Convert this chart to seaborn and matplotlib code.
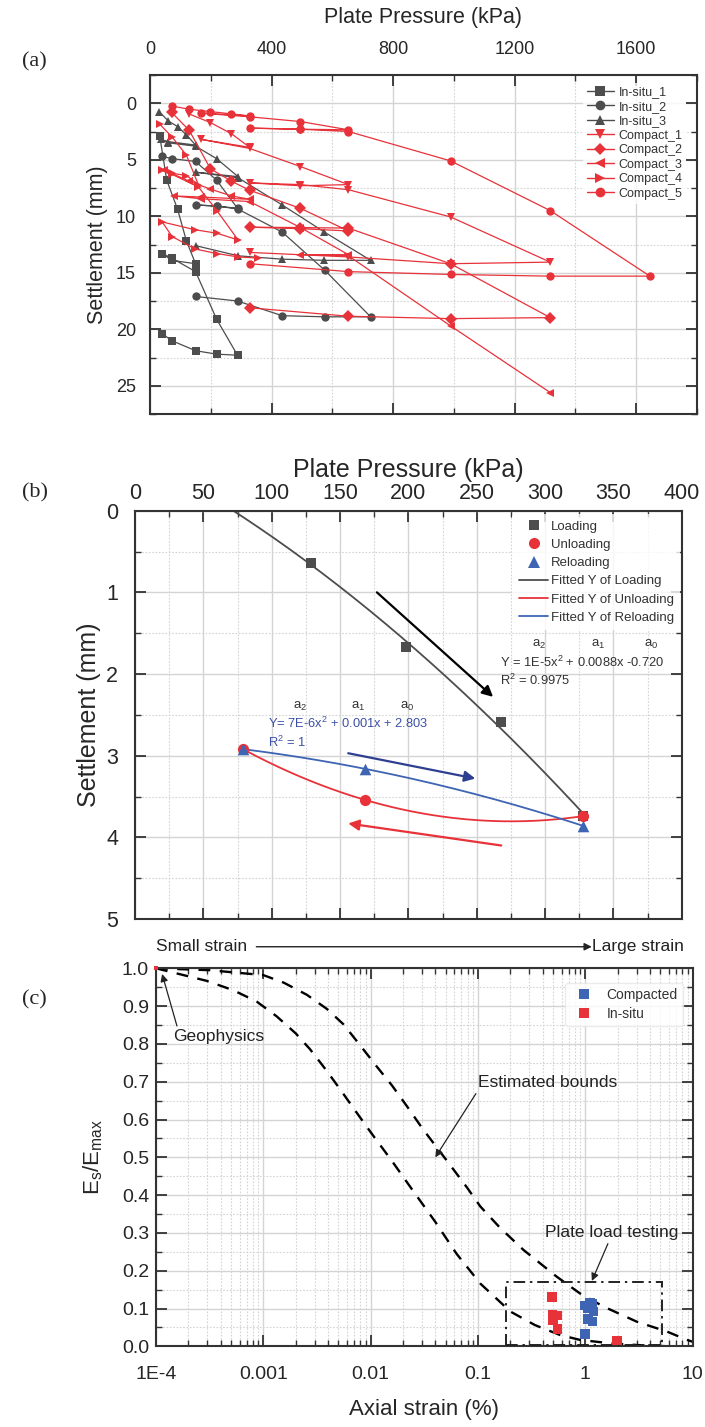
import numpy as np
import pandas as pd
import matplotlib
matplotlib.use("Agg")
import matplotlib.pyplot as plt
import seaborn as sns
from matplotlib.lines import Line2D
from matplotlib.patches import Rectangle
from matplotlib.ticker import MultipleLocator, LogLocator, NullFormatter, FormatStrFormatter

sns.set_style("white")
plt.rcParams["font.family"] = ["Liberation Sans", "DejaVu Sans"]
plt.rcParams["mathtext.default"] = "regular"

GRAY = "#4d4d4d"
RED = "#e8323a"
BLUE = "#3e64b4"
NAVY = "#2e3f92"
GRID = "#d4d4d4"
AXIS = "#333333"

# ---------------------------------------------------------------- (a) data
# plate pressure (kPa) and settlement (mm), in the order the readings were taken
insitu1_p = [32, 55, 91, 120, 150, 71, 41, 71, 150, 219, 288, 219, 150, 71, 41]
insitu1_s = [2.9, 6.8, 9.4, 12.2, 14.2, 13.9, 13.3, 13.7, 14.9, 19.1, 22.3, 22.2, 21.9, 21.0, 20.4]
insitu2_p = [41, 71, 150, 219, 288, 219, 150, 219, 288, 435, 576, 726, 576, 435, 288, 150]
insitu2_s = [4.7, 4.9, 5.15, 6.8, 9.3, 9.1, 9.0, 9.1, 9.35, 11.4, 14.8, 18.9, 18.9, 18.8, 17.5, 17.1]
insitu3_p = [30, 60, 91, 120, 150, 60, 35, 60, 150, 219, 290, 150, 290, 435, 574, 726, 574, 435, 290, 150]
insitu3_s = [0.74, 1.56, 2.07, 2.8, 3.7, 3.4, 3.2, 3.5, 3.8, 4.9, 6.5, 6.1, 6.6, 9.0, 11.4, 13.9, 13.9, 13.8, 13.5, 12.6]
compact1_p = [129, 199, 268, 328, 169, 328, 495, 653, 495, 328, 495, 653, 989, 1317, 989, 653, 328]
compact1_s = [0.95, 1.71, 2.7, 3.9, 3.2, 4.0, 5.6, 7.2, 7.3, 7.05, 7.2, 7.65, 10.06, 14.06, 14.2, 13.6, 13.2]
compact2_p = [71, 129, 199, 268, 328, 495, 653, 495, 328, 495, 653, 989, 1317, 989, 653, 328]
compact2_s = [0.8, 2.4, 5.8, 6.9, 7.7, 9.3, 11.3, 11.1, 10.97, 11.0, 11.05, 14.2, 18.97, 19.06, 18.85, 18.1]
compact3_p = [46, 129, 199, 268, 328, 167, 79, 167, 328, 495, 653, 495, 653, 989, 1317]
compact3_s = [5.9, 6.9, 7.6, 8.2, 8.5, 8.3, 8.2, 8.45, 8.7, 11.0, 13.4, 13.4, 13.5, 19.7, 25.6]
compact4_p = [32, 73, 120, 159, 120, 73, 40, 73, 159, 220, 290, 220, 149, 40, 73, 149, 220, 290, 355]
compact4_s = [1.85, 3.0, 4.6, 7.2, 6.4, 6.2, 5.9, 6.3, 7.4, 9.5, 12.1, 11.5, 11.2, 10.5, 11.8, 12.9, 13.3, 13.6, 13.7]
compact5_p = [71, 129, 199, 268, 328, 169, 328, 495, 653, 495, 328, 495, 653, 989, 1317, 1645, 1317, 989, 653, 328]
compact5_s = [0.24, 0.53, 0.74, 0.94, 1.12, 0.88, 1.2, 1.62, 2.35, 2.3, 2.2, 2.3, 2.5, 5.1, 9.5, 15.3, 15.3, 15.15, 14.9, 14.2]

a_names = ["In-situ_1", "In-situ_2", "In-situ_3", "Compact_1", "Compact_2",
           "Compact_3", "Compact_4", "Compact_5"]
a_pressures = [insitu1_p, insitu2_p, insitu3_p, compact1_p, compact2_p, compact3_p, compact4_p, compact5_p]
a_settlements = [insitu1_s, insitu2_s, insitu3_s, compact1_s, compact2_s, compact3_s, compact4_s, compact5_s]
a_markers = ["s", "o", "^", "v", "D", "<", ">", "o"]
a_colors = [GRAY, GRAY, GRAY, RED, RED, RED, RED, RED]

# ---------------------------------------------------------------- (b) data
loading_p = [129, 198, 268, 328]
loading_s = [0.64, 1.67, 2.59, 3.74]
unloading_p = [328, 168, 79]
unloading_s = [3.74, 3.54, 2.92]
reloading_p = [79, 168, 328]
reloading_s = [2.92, 3.16, 3.86]

# ---------------------------------------------------------------- (c) data
upper_strain = [1e-4, 3.16e-4, 1.0e-3, 1.55e-3, 2.54e-3, 3.89e-3, 5.57e-3, 7.94e-3, 1.14e-2,
                1.58e-2, 2.19e-2, 3.02e-2, 5.0e-2, 7.9e-2, 0.105, 0.161, 0.265, 0.542, 0.89,
                1.48, 3.02, 5.75, 8.85, 10.0]
upper_ratio = [1.0, 0.995, 0.982, 0.962, 0.930, 0.893, 0.852, 0.797, 0.74, 0.69, 0.634, 0.577,
               0.495, 0.42, 0.37, 0.313, 0.255, 0.184, 0.14, 0.105, 0.065, 0.039, 0.017, 0.012]
lower_strain = [1e-4, 2.95e-4, 5.25e-4, 8.67e-4, 1.33e-3, 2.0e-3, 2.72e-3, 3.89e-3, 5.37e-3,
                7.41e-3, 1.02e-2, 1.58e-2, 2.5e-2, 3.98e-2, 6.3e-2, 0.105, 0.2, 0.34, 0.58,
                0.89, 1.7, 3.2, 6.0]
lower_ratio = [1.0, 0.967, 0.942, 0.912, 0.873, 0.828, 0.786, 0.729, 0.674, 0.618, 0.563, 0.49,
               0.41, 0.33, 0.245, 0.166, 0.092, 0.056, 0.030, 0.017, 0.008, 0.003, 0.0]
compacted_strain = [0.98, 1.11, 1.15, 1.06, 1.19, 1.06, 1.17, 0.99]
compacted_ratio = [0.108, 0.115, 0.112, 0.100, 0.092, 0.072, 0.066, 0.033]
insitu_strain = [0.49, 0.495, 0.55, 0.50, 0.55, 1.97]
insitu_ratio = [0.130, 0.083, 0.081, 0.070, 0.046, 0.015]
geo_strain = [1e-4]
geo_ratio = [1.0]
plt_box_strain = [0.183, 5.16]
plt_box_ratio = [0.004, 0.171]


def frame(ax, xmaj, xmin, ymaj, ymin, top_labels):
    for sp in ax.spines.values():
        sp.set_color(AXIS)
        sp.set_linewidth(1.5)
    if xmaj is not None:
        ax.xaxis.set_major_locator(MultipleLocator(xmaj))
        ax.xaxis.set_minor_locator(MultipleLocator(xmin))
    ax.yaxis.set_major_locator(MultipleLocator(ymaj))
    ax.yaxis.set_minor_locator(MultipleLocator(ymin))
    ax.grid(which="major", color=GRID, lw=1.0, ls="-")
    ax.grid(which="minor", color=GRID, lw=0.8, ls=(0, (1.5, 1.5)))
    ax.set_axisbelow(True)
    ax.tick_params(which="both", direction="in", top=True, bottom=True, left=True, right=True,
                   color=AXIS, labeltop=top_labels, labelbottom=not top_labels)
    ax.tick_params(which="major", length=8, width=1.3)
    ax.tick_params(which="minor", length=4.5, width=1.0)
    if top_labels:
        ax.xaxis.set_label_position("top")


fig = plt.figure(figsize=(7.05, 14.27), dpi=100)
serif = ["Liberation Serif", "DejaVu Serif"]

# ================================================================ (a)
ax_a = fig.add_axes([150 / 705, 1 - 414 / 1427, 547 / 705, 339 / 1427])
rows = []
for name, p, s in zip(a_names, a_pressures, a_settlements):
    for i, (pp, ss) in enumerate(zip(p, s)):
        rows.append((name, i, pp, ss))
df_a = pd.DataFrame(rows, columns=["series", "step", "pressure", "settlement"])
sns.lineplot(data=df_a, x="pressure", y="settlement", hue="series", style="series",
             hue_order=a_names, style_order=a_names,
             palette=dict(zip(a_names, a_colors)), markers=dict(zip(a_names, a_markers)),
             dashes=False, sort=False, estimator=None, markersize=6, linewidth=0.9, mew=0,
             legend=False, ax=ax_a)
ax_a.set_xlim(0, 1800)
ax_a.set_ylim(27.5, -2.5)
frame(ax_a, 400, 200, 5, 2.5, True)
ax_a.tick_params(axis="x", labelsize=13, pad=12)
ax_a.tick_params(axis="y", labelsize=13, pad=10)
ax_a.set_xlabel("Plate Pressure (kPa)", fontsize=15.5, labelpad=13)
ax_a.set_ylabel("Settlement (mm)", fontsize=15.5, labelpad=6)
handles_a = [Line2D([], [], color=c, marker=m, lw=1.0, ms=7 if m != "D" else 6, mew=0)
             for c, m in zip(a_colors, a_markers)]
leg_a = ax_a.legend(handles_a, a_names, loc="upper right", bbox_to_anchor=(0.985, 0.985),
                    fontsize=9, frameon=True, handlelength=2.2, handletextpad=0.35,
                    labelspacing=0.2, borderpad=0.3, borderaxespad=0.2)
leg_a.get_frame().set_facecolor("white")
leg_a.get_frame().set_edgecolor("none")
for t in leg_a.get_texts():
    t.set_color("#333333")

# ================================================================ (b)
ax_b = fig.add_axes([135 / 705, 1 - 919 / 1427, 546.7 / 705, 408.3 / 1427])
coef_load = np.polyfit(loading_p, loading_s, 2)
coef_unload = np.polyfit(unloading_p, unloading_s, 2)
coef_reload = np.polyfit(reloading_p, reloading_s, 2)
x_load = np.linspace(0, max(loading_p), 200)
x_cycle = np.linspace(min(reloading_p), max(reloading_p), 200)
sns.lineplot(x=x_load, y=np.polyval(coef_load, x_load), color=GRAY, lw=1.3, sort=False,
             estimator=None, ax=ax_b)
sns.lineplot(x=x_cycle, y=np.polyval(coef_unload, x_cycle), color=RED, lw=1.3, sort=False,
             estimator=None, ax=ax_b)
sns.lineplot(x=x_cycle, y=np.polyval(coef_reload, x_cycle), color=BLUE, lw=1.3, sort=False,
             estimator=None, ax=ax_b)
sns.scatterplot(x=loading_p, y=loading_s, marker="s", color=GRAY, s=55, linewidth=0, ax=ax_b, zorder=4)
sns.scatterplot(x=unloading_p, y=unloading_s, marker="o", color=RED, s=65, linewidth=0, ax=ax_b, zorder=5)
sns.scatterplot(x=reloading_p, y=reloading_s, marker="^", color=BLUE, s=70, linewidth=0, ax=ax_b, zorder=6)
ax_b.set_xlim(0, 400)
ax_b.set_ylim(5, 0)
frame(ax_b, 50, 25, 1, 0.5, True)
ax_b.tick_params(axis="x", labelsize=15.5, pad=5)
ax_b.tick_params(axis="y", labelsize=15.5, pad=12)
ax_b.set_xlabel("Plate Pressure (kPa)", fontsize=18, labelpad=4)
ax_b.set_ylabel("Settlement (mm)", fontsize=18, labelpad=4)

arrow_kw = dict(arrowstyle="-|>", lw=1.6, mutation_scale=16, shrinkA=0, shrinkB=0)
ax_b.annotate("", xy=(262, 2.28), xytext=(177, 1.0), arrowprops=dict(color="black", **arrow_kw))
ax_b.annotate("", xy=(249, 3.28), xytext=(156, 2.97), arrowprops=dict(color=NAVY, **arrow_kw))
ax_b.annotate("", xy=(156, 3.83), xytext=(268, 4.10), arrowprops=dict(color=RED, **arrow_kw))

tk = dict(fontsize=9.5, color="#333333", ha="center", va="center")
for lab, xx in zip(["$a_2$", "$a_1$", "$a_0$"], [296, 339, 378]):
    ax_b.text(xx, 1.64, lab, **tk)
ax_b.text(267, 1.86, "Y = 1E-5x$^2$ + 0.0088x -0.720", fontsize=9.3, color="#333333",
          ha="left", va="center")
ax_b.text(267, 2.08, "R$^2$ = 0.9975", fontsize=9.3, color="#333333", ha="left", va="center")
for lab, xx in zip(["$a_2$", "$a_1$", "$a_0$"], [121, 163, 199]):
    ax_b.text(xx, 2.40, lab, **tk)
ax_b.text(97, 2.60, "Y= 7E-6x$^2$ + 0.001x + 2.803", fontsize=9.3, color="#3c50a8",
          ha="left", va="center")
ax_b.text(97, 2.835, "R$^2$ = 1", fontsize=9.3, color="#3c50a8", ha="left", va="center")

handles_b = [
    Line2D([], [], ls="none", marker="s", color=GRAY, ms=7, mew=0),
    Line2D([], [], ls="none", marker="o", color=RED, ms=8, mew=0),
    Line2D([], [], ls="none", marker="^", color=BLUE, ms=8, mew=0),
    Line2D([], [], color=GRAY, lw=1.3),
    Line2D([], [], color=RED, lw=1.3),
    Line2D([], [], color=BLUE, lw=1.3),
]
labels_b = ["Loading", "Unloading", "Reloading", "Fitted Y of Loading",
            "Fitted Y of Unloading", "Fitted Y of Reloading"]
leg_b = ax_b.legend(handles_b, labels_b, loc="upper right", bbox_to_anchor=(1.0, 0.995),
                    fontsize=9.5, frameon=True, handlelength=2.2, handletextpad=0.2,
                    labelspacing=0.45, borderpad=0.5, borderaxespad=0.1)
leg_b.get_frame().set_facecolor("white")
leg_b.get_frame().set_edgecolor("none")
for t in leg_b.get_texts():
    t.set_color("#333333")

# ================================================================ (c)
ax_c = fig.add_axes([156 / 705, 1 - 1346.3 / 1427, 536.7 / 705, 378 / 1427])
ax_c.set_xscale("log")
sns.lineplot(x=upper_strain, y=upper_ratio, color="black", lw=1.7, sort=False, estimator=None, ax=ax_c)
sns.lineplot(x=lower_strain, y=lower_ratio, color="black", lw=1.7, sort=False, estimator=None, ax=ax_c)
for ln in ax_c.lines[-2:]:
    ln.set_dashes([5, 4])
df_c = pd.DataFrame({
    "strain": compacted_strain + insitu_strain,
    "ratio": compacted_ratio + insitu_ratio,
    "group": ["Compacted"] * len(compacted_strain) + ["In-situ"] * len(insitu_strain),
})
sns.scatterplot(data=df_c, x="strain", y="ratio", hue="group", marker="s", s=48, linewidth=0,
                palette={"Compacted": BLUE, "In-situ": RED}, legend=False, ax=ax_c, zorder=5)
sns.scatterplot(x=geo_strain, y=geo_ratio, marker="s", color=RED, s=12, linewidth=0,
                ax=ax_c, zorder=6, clip_on=False)
ax_c.add_patch(Rectangle((plt_box_strain[0], plt_box_ratio[0]),
                         plt_box_strain[1] - plt_box_strain[0],
                         plt_box_ratio[1] - plt_box_ratio[0],
                         fill=False, ec="#222222", lw=1.4, ls=(0, (6, 2.5, 1.2, 2.5)), zorder=4))
ax_c.set_xlim(1e-4, 10)
ax_c.set_ylim(0, 1.0)
frame(ax_c, None, None, 0.1, 0.05, False)
ax_c.xaxis.set_major_locator(LogLocator(base=10, numticks=12))
ax_c.xaxis.set_minor_locator(LogLocator(base=10, subs=np.arange(2, 10), numticks=12))
ax_c.xaxis.set_minor_formatter(NullFormatter())
ax_c.set_xticks([1e-4, 1e-3, 1e-2, 1e-1, 1, 10])
ax_c.set_xticklabels(["1E-4", "0.001", "0.01", "0.1", "1", "10"])
ax_c.yaxis.set_major_formatter(FormatStrFormatter("%.1f"))
ax_c.tick_params(axis="x", labelsize=14, pad=14)
ax_c.tick_params(axis="y", labelsize=14, pad=5)
ax_c.set_xlabel("Axial strain (%)", fontsize=16, labelpad=12)
ax_c.set_ylabel("E$_s$/E$_{max}$", fontsize=16, labelpad=12)

ax_c.text(0.0, 1.057, "Small strain", transform=ax_c.transAxes, fontsize=12.5,
          color="#222222", ha="left", va="center")
ax_c.text(0.813, 1.057, "Large strain", transform=ax_c.transAxes, fontsize=12.5,
          color="#222222", ha="left", va="center")
ax_c.annotate("", xy=(0.812, 1.057), xytext=(0.187, 1.057), xycoords="axes fraction",
              textcoords="axes fraction",
              arrowprops=dict(arrowstyle="-|>", lw=1.0, color="#222222", mutation_scale=11,
                              shrinkA=0, shrinkB=0))
ann = dict(fontsize=12.5, color="#222222")
thin_arrow = dict(arrowstyle="-|>", lw=0.9, color="#222222", mutation_scale=11, shrinkA=0, shrinkB=0)
ax_c.annotate("Geophysics", xy=(1.14e-4, 0.985), xytext=(1.45e-4, 0.819), va="center", ha="left",
              arrowprops=dict(relpos=(0.05, 1.0), **thin_arrow), **ann)
ax_c.annotate("Estimated bounds", xy=(0.040, 0.50), xytext=(0.10, 0.697), va="center", ha="left",
              arrowprops=dict(relpos=(0.0, 0.0), **thin_arrow), **ann)
ax_c.annotate("Plate load testing", xy=(1.15, 0.173), xytext=(1.77, 0.30), va="center", ha="center",
              arrowprops=dict(relpos=(0.48, 0.0), **thin_arrow), **ann)

handles_c = [Line2D([], [], ls="none", marker="s", color=BLUE, ms=7, mew=0),
             Line2D([], [], ls="none", marker="s", color=RED, ms=7, mew=0)]
leg_c = ax_c.legend(handles_c, ["Compacted", "In-situ"], loc="upper right",
                    bbox_to_anchor=(0.995, 0.98), fontsize=10, frameon=True,
                    handletextpad=0.6, labelspacing=0.3, borderpad=0.4)
leg_c.get_frame().set_facecolor("white")
leg_c.get_frame().set_edgecolor("#e6e6e6")
for t in leg_c.get_texts():
    t.set_color("#333333")

# panel letters
for lab, y in [("(a)", 62), ("(b)", 493), ("(c)", 1000)]:
    fig.text(22 / 705, 1 - y / 1427, lab, fontsize=16, family=serif, ha="left", va="center")

fig.savefig("out.png", dpi=100)
